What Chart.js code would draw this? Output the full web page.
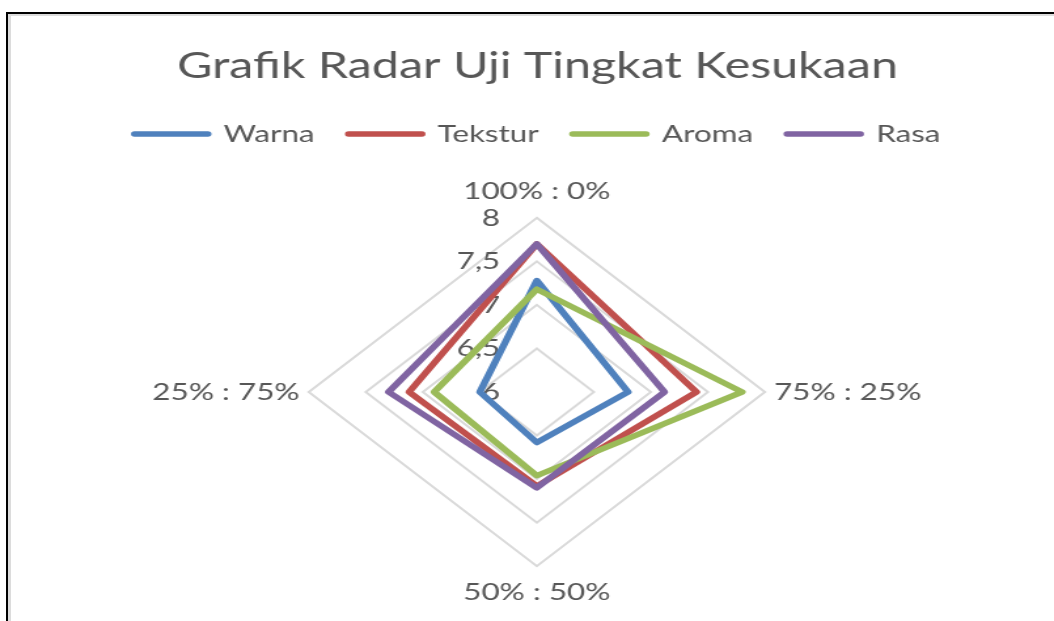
<!DOCTYPE html>
<html lang="id">
<head>
    <meta charset="UTF-8">
    <title>Grafik Radar Uji Tingkat Kesukaan</title>
    <script src="https://cdn.jsdelivr.net/npm/chart.js"></script>
    <style>
        body { margin: 0; background: #fff; }
        /* the original picture is stretched sideways, so the canvas is too */
        .chart-container {
            position: absolute;
            left: 0;
            top: 0;
            width: 805px;
            height: 621px;
            transform: scaleX(1.3093);
            transform-origin: 0 0;
        }
        .frame { position: absolute; }
    </style>
</head>
<body>
    <div class="chart-container"><canvas id="radar"></canvas></div>
    <div class="frame" style="left:8px;top:14px;width:1046px;height:2px;background:#dcdcdc"></div>
    <div class="frame" style="left:8px;top:14px;width:3px;height:607px;background:#dcdcdc"></div>
    <div class="frame" style="left:6px;top:12px;width:1048px;height:2px;background:#000"></div>
    <div class="frame" style="left:6px;top:12px;width:2px;height:609px;background:#000"></div>

    <script>
        const labels = ['100% : 0%', '75% : 25%', '50% : 50%', '25% : 75%'];
        const warna = [7.28, 6.80, 6.58, 6.50];
        const tekstur = [7.70, 7.40, 7.08, 7.12];
        const aroma = [7.18, 7.80, 6.96, 6.90];
        const rasa = [7.70, 7.12, 7.10, 7.30];
        const scaleMin = 6;
        const scaleMax = 8;
        const scaleStep = 0.5;

        const textColor = '#575757';
        const fontFamily = 'Lato';

        function makeSet(label, data, color, order) {
            return {
                label: label,
                data: data,
                borderColor: color,
                backgroundColor: color,
                fill: false,
                borderWidth: 5.5,
                borderJoinStyle: 'round',
                pointRadius: 0,
                order: order // later series are drawn on top, like Excel
            };
        }

        // Excel puts the value labels left of the vertical axis
        const leftTicks = {
            id: 'leftTicks',
            beforeDatasetsDraw(chart) {
                const r = chart.scales.r;
                const ctx = chart.ctx;
                ctx.save();
                ctx.font = '24px ' + fontFamily;
                ctx.fillStyle = textColor;
                ctx.textAlign = 'right';
                ctx.textBaseline = 'middle';
                r.ticks.forEach(t => {
                    ctx.fillText(t.label, r.xCenter - 28, r.yCenter - r.getDistanceFromCenterForValue(t.value));
                });
                ctx.restore();
            }
        };

        new Chart(document.getElementById('radar'), {
            type: 'radar',
            data: {
                labels: labels,
                datasets: [
                    makeSet('Warna', warna, '#4F81BD', 3),
                    makeSet('Tekstur', tekstur, '#C0504D', 2),
                    makeSet('Aroma', aroma, '#9BBB59', 1),
                    makeSet('Rasa', rasa, '#8064A2', 0)
                ]
            },
            options: {
                responsive: true,
                maintainAspectRatio: false,
                animation: false,
                layout: { padding: { top: 0, left: 16, right: 0, bottom: 13 } },
                scales: {
                    r: {
                        min: scaleMin,
                        max: scaleMax,
                        ticks: {
                            stepSize: scaleStep,
                            display: false,
                            callback: v => String(v).replace('.', ',')
                        },
                        grid: { color: '#d9d9d9', lineWidth: 2 },
                        angleLines: { display: false },
                        pointLabels: {
                            color: textColor,
                            font: { family: fontFamily, size: 24 },
                            padding: ctx => (ctx.index % 2 ? 7 : 12)
                        }
                    }
                },
                plugins: {
                    title: {
                        display: true,
                        text: 'Grafik Radar Uji Tingkat Kesukaan',
                        color: textColor,
                        font: { family: fontFamily, size: 37, weight: 'normal' },
                        padding: { top: 44, bottom: 7.6 }
                    },
                    // empty subtitle only keeps a gap between legend and radar
                    subtitle: {
                        display: true,
                        text: '',
                        weight: 500,
                        font: { size: 10, lineHeight: 1 },
                        padding: { top: 0, bottom: 11 }
                    },
                    legend: {
                        position: 'top',
                        labels: {
                            usePointStyle: true,
                            pointStyle: 'line',
                            pointStyleWidth: 56,
                            padding: 26,
                            color: textColor,
                            font: { family: fontFamily, size: 24 },
                            sort: (a, b) => a.datasetIndex - b.datasetIndex,
                            generateLabels: chart => Chart.defaults.plugins.legend.labels.generateLabels(chart)
                                .map(item => Object.assign(item, { lineWidth: 5.5, lineCap: 'round', lineJoin: 'round' }))
                        }
                    },
                    tooltip: { enabled: false }
                }
            },
            plugins: [leftTicks]
        });
    </script>
</body>
</html>
